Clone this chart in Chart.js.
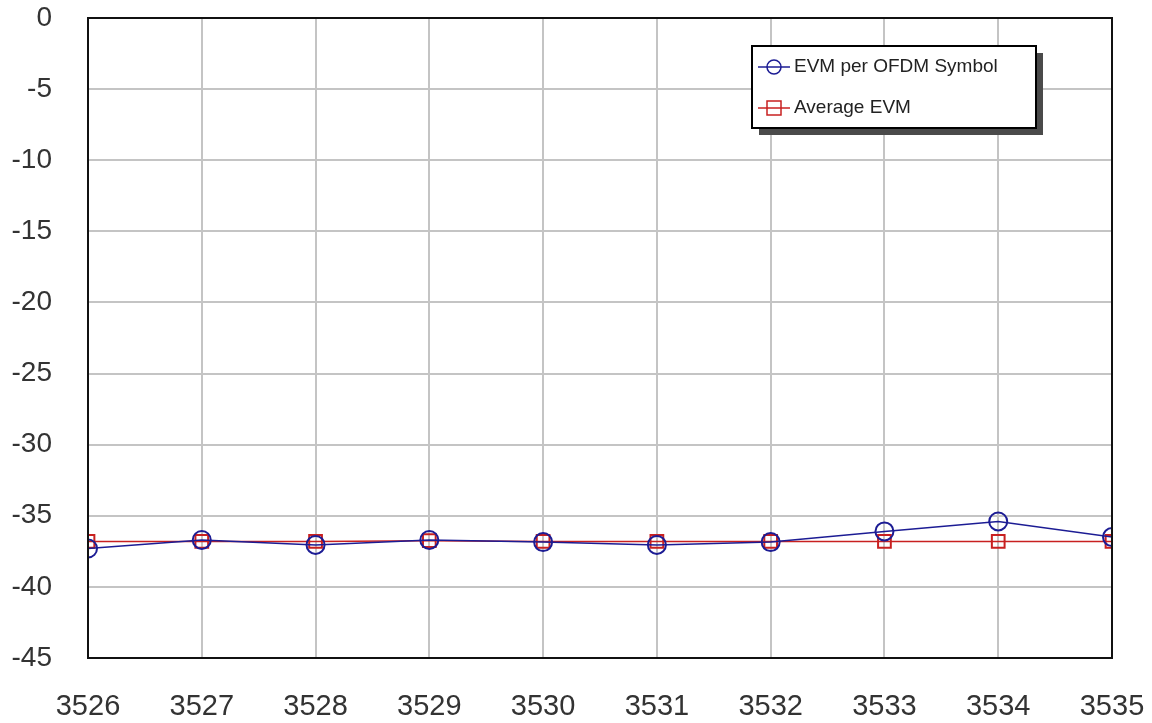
<!DOCTYPE html>
<html>
<head>
<meta charset="utf-8">
<script src="https://cdn.jsdelivr.net/npm/chart.js@4"></script>
<style>
  html, body { margin: 0; padding: 0; background: #fff; }
  #wrap { width: 1152px; height: 723px; }
</style>
</head>
<body>
<div id="wrap"><canvas id="evmChart" width="1152" height="723"></canvas></div>
<script>
// x positions (symbol index)
const symbols = [3526, 3527, 3528, 3529, 3530, 3531, 3532, 3533, 3534, 3535];
// EVM per OFDM symbol (dB)
const evmPerSymbol = [-37.3, -36.7, -37.05, -36.7, -36.85, -37.05, -36.85, -36.1, -35.4, -36.5];
// running average EVM (dB)
const avgEvm = [-36.8, -36.8, -36.8, -36.75, -36.8, -36.8, -36.8, -36.8, -36.8, -36.8];
const yTicks = [0, -5, -10, -15, -20, -25, -30, -35, -40, -45];

const toPoints = vals => symbols.map((x, i) => ({ x: x, y: vals[i] }));

// black frame round the plot area
const plotFrame = {
    id: 'plotFrame',
    afterDatasetsDraw(chart) {
        const a = chart.chartArea;
        const ctx = chart.ctx;
        ctx.save();
        ctx.strokeStyle = '#111';
        ctx.lineWidth = 2;
        ctx.strokeRect(a.left, a.top, a.right - a.left, a.bottom - a.top);
        ctx.restore();
    }
};

// legend box with drop shadow, like the original plot
const boxLegend = {
    id: 'boxLegend',
    afterDraw(chart) {
        const ctx = chart.ctx;
        const x = 752, y = 46, w = 284, h = 82;
        ctx.save();
        ctx.fillStyle = '#4a4a4a';
        ctx.fillRect(x + 7, y + 7, w, h);
        ctx.fillStyle = '#fff';
        ctx.fillRect(x, y, w, h);
        ctx.strokeStyle = '#000';
        ctx.lineWidth = 2;
        ctx.strokeRect(x, y, w, h);
        ctx.font = '19px "Liberation Sans", Arial, sans-serif';
        ctx.textBaseline = 'middle';
        chart.data.datasets.forEach((ds, i) => {
            const ly = y + 21 + i * 41;
            ctx.strokeStyle = ds.borderColor;
            ctx.lineWidth = 1.5;
            ctx.beginPath();
            ctx.moveTo(x + 6, ly);
            ctx.lineTo(x + 38, ly);
            ctx.stroke();
            if (ds.pointStyle === 'circle') {
                ctx.beginPath();
                ctx.arc(x + 22, ly, 7, 0, Math.PI * 2);
                ctx.stroke();
            } else {
                ctx.strokeRect(x + 15, ly - 7, 14, 14);
            }
            ctx.fillStyle = '#222';
            ctx.fillText(ds.label, x + 42, ly);
        });
        ctx.restore();
    }
};

new Chart(document.getElementById('evmChart').getContext('2d'), {
    type: 'line',
    data: {
        datasets: [
            {
                label: 'EVM per OFDM Symbol',
                data: toPoints(evmPerSymbol),
                borderColor: '#1c1c94',
                backgroundColor: 'rgba(0,0,0,0)',
                borderWidth: 1.5,
                pointStyle: 'circle',
                pointRadius: 9,
                pointBorderWidth: 2,
                tension: 0
            },
            {
                label: 'Average EVM',
                data: toPoints(avgEvm),
                borderColor: '#c82020',
                backgroundColor: 'rgba(0,0,0,0)',
                borderWidth: 1.5,
                pointStyle: 'rect',
                pointRadius: 9,
                pointBorderWidth: 2,
                tension: 0
            }
        ]
    },
    options: {
        responsive: false,
        animation: false,
        layout: { padding: { top: 18, right: 40, left: 0, bottom: 0 } },
        plugins: {
            legend: { display: false },
            tooltip: { enabled: false }
        },
        scales: {
            x: {
                type: 'linear',
                min: symbols[0],
                max: symbols[symbols.length - 1],
                afterFit: s => { s.height = 65; s.paddingLeft = 0; s.paddingRight = 0; },
                afterBuildTicks: s => { s.ticks = symbols.map(v => ({ value: v })); },
                grid: { color: '#c4c4c4', lineWidth: 2, drawTicks: false },
                border: { color: '#111', width: 2 },
                ticks: {
                    padding: 32,
                    color: '#333',
                    font: { size: 29, family: '"Liberation Sans", Arial, sans-serif' },
                    callback: v => String(v)
                }
            },
            y: {
                min: -45,
                max: 0,
                afterFit: s => { s.width = 88; s.paddingTop = 0; s.paddingBottom = 0; },
                afterBuildTicks: s => { s.ticks = yTicks.map(v => ({ value: v })); },
                grid: { color: '#c4c4c4', lineWidth: 2, drawTicks: false },
                border: { color: '#111', width: 2 },
                ticks: {
                    padding: 36,
                    color: '#333',
                    font: { size: 28, family: '"Liberation Sans", Arial, sans-serif' }
                }
            }
        }
    },
    plugins: [plotFrame, boxLegend]
});
</script>
</body>
</html>
